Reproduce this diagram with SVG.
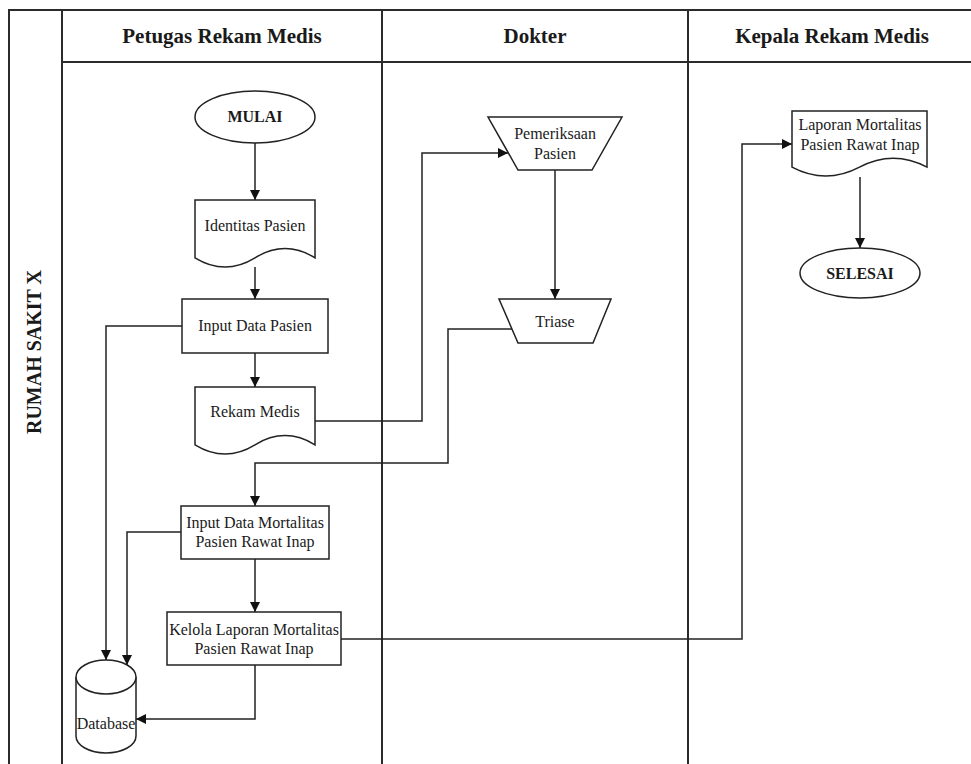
<svg xmlns="http://www.w3.org/2000/svg" width="971" height="764" viewBox="0 0 971 764" font-family="'Liberation Serif', 'Times New Roman', Times, serif">
  <style>
    .frame { fill: none; stroke: #2b2b2b; stroke-width: 2; }
    .shape { fill: #ffffff; stroke: #222222; stroke-width: 1.5; }
    .edge { fill: none; stroke: #222222; stroke-width: 1.5; }
    text { font-family: 'Liberation Serif', 'Times New Roman', Times, serif; fill: #1a1a1a; text-anchor: middle; }
    .hdr { font-size: 21px; font-weight: bold; }
    .lbl { font-size: 16px; }
    .term { font-size: 16px; font-weight: bold; }
  </style>
  <defs>
    <marker id="arrow" viewBox="0 0 10 10" refX="10" refY="5" markerWidth="10" markerHeight="10" markerUnits="userSpaceOnUse" orient="auto">
      <path d="M0,0 L10,5 L0,10 Z" fill="#111111"/>
    </marker>
  </defs>

  <rect width="971" height="764" fill="#ffffff"/>

  <!-- swimlane frame -->
  <g id="pool">
    <path class="frame" d="M9,764 V10 H971"/>
    <path class="frame" d="M62,10 V764 M382,10 V764 M688,10 V764 M62,62 H971"/>
    <text class="hdr" transform="translate(41,352) rotate(-90)" style="font-size:20px">RUMAH SAKIT X</text>
    <text class="hdr" x="222" y="43">Petugas Rekam Medis</text>
    <text class="hdr" x="535" y="43">Dokter</text>
    <text class="hdr" x="832" y="43">Kepala Rekam Medis</text>
  </g>

  <!-- connectors -->
  <g id="connectors">
    <path class="edge" marker-end="url(#arrow)" d="M255,143 V200"/>
    <path class="edge" marker-end="url(#arrow)" d="M255,267 V299"/>
    <path class="edge" marker-end="url(#arrow)" d="M255,353 V387"/>
    <path class="edge" marker-end="url(#arrow)" d="M182,326 H106 V660"/>
    <path class="edge" marker-end="url(#arrow)" d="M315,421 H422 V153 H508"/>
    <path class="edge" marker-end="url(#arrow)" d="M555,170 V299"/>
    <path class="edge" marker-end="url(#arrow)" d="M512,329 H448 V463 H255 V506"/>
    <path class="edge" marker-end="url(#arrow)" d="M255,559 V612"/>
    <path class="edge" marker-end="url(#arrow)" d="M181,532 H127 V665"/>
    <path class="edge" marker-end="url(#arrow)" d="M255,665 V719 H136"/>
    <path class="edge" marker-end="url(#arrow)" d="M341,639 H742 V144 H792"/>
    <path class="edge" marker-end="url(#arrow)" d="M860,177 V248"/>
  </g>

  <!-- Petugas Rekam Medis lane -->
  <g id="mulai">
    <ellipse class="shape" cx="255" cy="117" rx="60" ry="26"/>
    <text class="term" x="255" y="122">MULAI</text>
  </g>
  <g id="identitas-pasien">
    <path class="shape" d="M195,200 H315 V257.8 Q285,239.4 255,257.8 Q225,276.2 195,257.8 Z"/>
    <text class="lbl" x="255" y="231">Identitas Pasien</text>
  </g>
  <g id="input-data-pasien">
    <rect class="shape" x="182" y="299" width="146" height="54"/>
    <text class="lbl" x="255" y="331">Input Data Pasien</text>
  </g>
  <g id="rekam-medis">
    <path class="shape" d="M195,387 H315 V444.8 Q285,426.4 255,444.8 Q225,463.2 195,444.8 Z"/>
    <text class="lbl" x="255" y="417">Rekam Medis</text>
  </g>
  <g id="input-data-mortalitas">
    <rect class="shape" x="181" y="506" width="148" height="53"/>
    <text class="lbl" x="255" y="528">Input Data Mortalitas</text>
    <text class="lbl" x="255" y="547">Pasien Rawat Inap</text>
  </g>
  <g id="kelola-laporan">
    <rect class="shape" x="167" y="612" width="174" height="53"/>
    <text class="lbl" x="254" y="635">Kelola Laporan Mortalitas</text>
    <text class="lbl" x="254" y="654">Pasien Rawat Inap</text>
  </g>
  <g id="database">
    <path class="shape" d="M76,677 A30,17 0 0 1 136,677 V736 A30,17 0 0 1 76,736 Z"/>
    <path class="shape" fill="none" d="M76,677 A30,17 0 0 0 136,677"/>
    <text class="lbl" x="106" y="729">Database</text>
  </g>

  <!-- Dokter lane -->
  <g id="pemeriksaan-pasien">
    <polygon class="shape" points="488,117 622,117 592,170 518,170"/>
    <text class="lbl" x="555" y="139">Pemeriksaan</text>
    <text class="lbl" x="555" y="159">Pasien</text>
  </g>
  <g id="triase">
    <polygon class="shape" points="499,299 611,299 593,343 518,343"/>
    <text class="lbl" x="555" y="327">Triase</text>
  </g>

  <!-- Kepala Rekam Medis lane -->
  <g id="laporan-mortalitas">
    <path class="shape" d="M792,111 H927 V167.1 Q893.25,149.3 859.5,167.1 Q825.75,184.9 792,167.1 Z"/>
    <text class="lbl" x="860" y="130">Laporan Mortalitas</text>
    <text class="lbl" x="860" y="150">Pasien Rawat Inap</text>
  </g>
  <g id="selesai">
    <ellipse class="shape" cx="860" cy="273" rx="60" ry="25"/>
    <text class="term" x="860" y="279">SELESAI</text>
  </g>
</svg>
